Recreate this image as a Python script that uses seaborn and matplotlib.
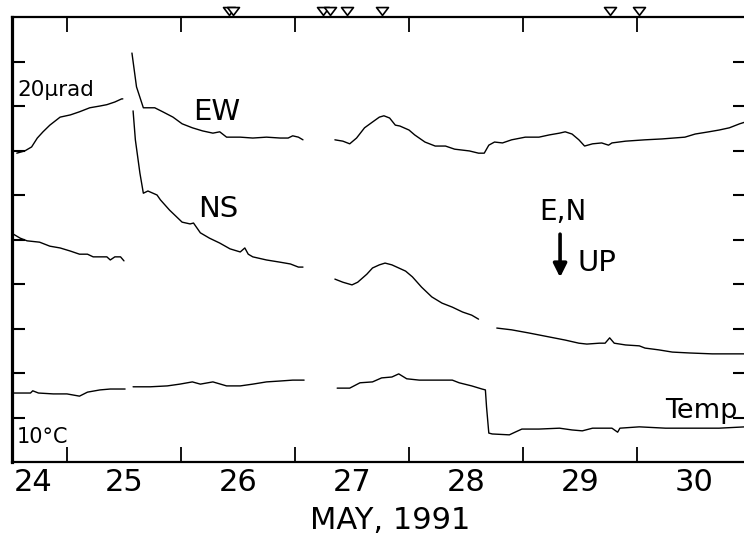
import numpy as np
import pandas as pd
import matplotlib
matplotlib.use("Agg")
import matplotlib.pyplot as plt
import seaborn as sns
from matplotlib.markers import MarkerStyle
from matplotlib.path import Path

# ---------------- data (x: day of May 1991, y: chart divisions) ----------------
EW_DAY_1 = [24.56, 24.63, 24.69, 24.74, 24.79, 24.85, 24.94, 25.03, 25.11, 25.20, 25.29, 25.35, 25.42, 25.48, 25.49]
EW_VAL_1 = [6.94, 6.99, 7.08, 7.28, 7.42, 7.57, 7.75, 7.80, 7.87, 7.96, 8.00, 8.03, 8.09, 8.16, 8.16]
EW_DAY_2 = [25.57, 25.61, 25.67, 25.77, 25.84, 25.93, 26.01, 26.10, 26.19, 26.28,
            26.34, 26.40, 26.52, 26.63, 26.75, 26.87, 26.94, 26.98, 27.03, 27.07]
EW_VAL_2 = [9.19, 8.43, 7.96, 7.96, 7.87, 7.75, 7.60, 7.51, 7.44, 7.39,
            7.42, 7.30, 7.30, 7.28, 7.30, 7.28, 7.28, 7.33, 7.30, 7.24]
EW_DAY_3 = [27.35, 27.42, 27.48, 27.54, 27.61, 27.68, 27.74, 27.78, 27.83, 27.88,
            27.92, 28.00, 28.05, 28.14, 28.23, 28.32, 28.40, 28.53, 28.61, 28.66,
            28.70, 28.75, 28.82, 28.90, 29.02, 29.14, 29.23, 29.32, 29.37, 29.43,
            29.49, 29.54, 29.61, 29.69, 29.75, 29.78, 29.90, 30.07, 30.22, 30.42,
            30.51, 30.63, 30.72, 30.81, 30.90, 30.95]
EW_VAL_3 = [7.24, 7.21, 7.15, 7.28, 7.51, 7.64, 7.75, 7.78, 7.73, 7.57,
            7.55, 7.46, 7.35, 7.19, 7.10, 7.10, 7.03, 6.99, 6.94, 6.94,
            7.12, 7.19, 7.17, 7.24, 7.30, 7.30, 7.35, 7.39, 7.42, 7.37,
            7.24, 7.10, 7.15, 7.17, 7.12, 7.17, 7.21, 7.24, 7.26, 7.30,
            7.37, 7.42, 7.46, 7.51, 7.60, 7.64]

NS_DAY_1 = [24.53, 24.59, 24.65, 24.76, 24.85, 24.94, 25.03, 25.11, 25.18, 25.23, 25.35, 25.38, 25.42, 25.47, 25.50]
NS_VAL_1 = [5.12, 5.03, 4.97, 4.94, 4.85, 4.81, 4.74, 4.67, 4.67, 4.61, 4.61, 4.54, 4.61, 4.61, 4.52]
NS_DAY_2 = [25.58, 25.60, 25.64, 25.67, 25.71, 25.79, 25.82, 25.90, 26.01, 26.08,
            26.11, 26.17, 26.25, 26.34, 26.43, 26.52, 26.56, 26.59, 26.63, 26.75,
            26.87, 26.96, 27.03, 27.07]
NS_VAL_2 = [7.89, 7.24, 6.49, 6.04, 6.09, 6.00, 5.89, 5.66, 5.39, 5.35,
            5.37, 5.15, 5.03, 4.92, 4.79, 4.72, 4.81, 4.67, 4.61, 4.54,
            4.49, 4.45, 4.38, 4.38]
NS_DAY_3 = [27.35, 27.42, 27.50, 27.55, 27.63, 27.68, 27.74, 27.79, 27.85, 27.91,
            27.97, 28.03, 28.11, 28.20, 28.29, 28.38, 28.47, 28.55, 28.61]
NS_VAL_3 = [4.11, 4.04, 3.98, 4.04, 4.22, 4.36, 4.43, 4.47, 4.43, 4.36,
            4.29, 4.16, 3.93, 3.71, 3.57, 3.48, 3.37, 3.30, 3.21]
NS_DAY_4 = [28.77, 28.90, 29.05, 29.19, 29.37, 29.49, 29.56, 29.67, 29.72, 29.76,
            29.80, 29.90, 30.02, 30.07, 30.19, 30.31, 30.46, 30.66, 30.95]
NS_VAL_4 = [3.01, 2.97, 2.90, 2.83, 2.74, 2.67, 2.65, 2.67, 2.67, 2.79,
            2.67, 2.63, 2.61, 2.56, 2.52, 2.47, 2.45, 2.43, 2.43]

T_DAY_1 = [24.53, 24.68, 24.70, 24.75, 24.88, 25.00, 25.11, 25.18, 25.29, 25.38, 25.51]
T_VAL_1 = [1.55, 1.55, 1.60, 1.55, 1.53, 1.53, 1.48, 1.57, 1.62, 1.64, 1.64]
T_DAY_2 = [25.58, 25.73, 25.88, 25.99, 26.10, 26.17, 26.28, 26.40, 26.52, 26.63, 26.75, 26.87, 26.98, 27.08]
T_VAL_2 = [1.69, 1.69, 1.71, 1.75, 1.80, 1.75, 1.80, 1.71, 1.71, 1.75, 1.80, 1.82, 1.84, 1.84]
T_DAY_3 = [27.37, 27.48, 27.57, 27.68, 27.76, 27.85, 27.91, 27.98, 28.09, 28.38,
           28.44, 28.55, 28.64, 28.67, 28.68, 28.70, 28.73, 28.88, 28.93, 28.99,
           29.14, 29.32, 29.43, 29.52, 29.61, 29.78, 29.83, 29.85, 30.02, 30.25,
           30.48, 30.72, 30.95]
T_VAL_3 = [1.66, 1.66, 1.78, 1.80, 1.89, 1.91, 1.98, 1.87, 1.84, 1.84,
           1.78, 1.71, 1.64, 1.62, 1.24, 0.65, 0.63, 0.61, 0.67, 0.74,
           0.74, 0.76, 0.72, 0.70, 0.76, 0.76, 0.67, 0.76, 0.79, 0.76,
           0.76, 0.76, 0.79]

EVENT_DAYS = [26.42, 26.46, 27.25, 27.31, 27.46, 27.76, 29.76, 30.02]

DAY_TICKS = [25, 26, 27, 28, 29, 30]
DAY_LABELS = ["24", "25", "26", "27", "28", "29", "30"]
DAY_LABEL_POS = [24.70, 25.5, 26.5, 27.5, 28.5, 29.5, 30.5]

# ---------------- build long table ----------------
segments = [
    ("EW", EW_DAY_1, EW_VAL_1), ("EW", EW_DAY_2, EW_VAL_2), ("EW", EW_DAY_3, EW_VAL_3),
    ("NS", NS_DAY_1, NS_VAL_1), ("NS", NS_DAY_2, NS_VAL_2), ("NS", NS_DAY_3, NS_VAL_3), ("NS", NS_DAY_4, NS_VAL_4),
    ("Temp", T_DAY_1, T_VAL_1), ("Temp", T_DAY_2, T_VAL_2), ("Temp", T_DAY_3, T_VAL_3),
]
frames = []
for i, (name, d, v) in enumerate(segments):
    frames.append(pd.DataFrame({"day": d, "val": v, "series": name, "seg": i}))
df = pd.concat(frames, ignore_index=True)

sns.set_style("ticks")
plt.rcParams["font.family"] = ["DejaVu Sans"]
plt.rcParams["text.color"] = "black"
plt.rcParams["axes.labelcolor"] = "black"
plt.rcParams["xtick.color"] = "black"
plt.rcParams["ytick.color"] = "black"

fig = plt.figure(figsize=(7.44, 5.41), dpi=100)
ax = fig.add_axes([12 / 744, 79 / 541, 733 / 744, 445 / 541])

sns.lineplot(data=df, x="day", y="val", units="seg", estimator=None, sort=False,
             color="black", linewidth=1.0, ax=ax, legend=False)

tri = MarkerStyle(Path([(-1, 0.66), (1, 0.66), (0, -0.66), (-1, 0.66)],
                       [Path.MOVETO, Path.LINETO, Path.LINETO, Path.CLOSEPOLY]))
ev = pd.DataFrame({"day": EVENT_DAYS, "y": [10.13] * len(EVENT_DAYS)})
sns.scatterplot(data=ev, x="day", y="y", marker=tri, s=74, facecolor="white",
                edgecolor="black", linewidth=1.2, clip_on=False, zorder=6, ax=ax)

ax.set_xlim(24.518, 30.947)
ax.set_ylim(0, 10)

ax.set_xticks(DAY_TICKS)
ax.set_xticklabels([])
ax.set_xticks(DAY_LABEL_POS, minor=True)
ax.set_xticklabels(DAY_LABELS, minor=True, fontsize=22)
ax.tick_params(axis="x", which="major", direction="in", length=11, width=1.3,
               top=True, bottom=True, labelbottom=False)
ax.tick_params(axis="x", which="minor", length=0, pad=4)
ax.set_yticks(range(1, 10))
ax.set_yticklabels([])
ax.tick_params(axis="y", direction="in", length=9, width=1.5, left=True, right=True)

ax.spines["left"].set_linewidth(2.3)
ax.spines["bottom"].set_linewidth(1.6)
ax.spines["top"].set_linewidth(1.6)
ax.spines["right"].set_visible(False)
for s in ax.spines.values():
    s.set_color("black")

ax.set_xlabel("MAY, 1991", fontsize=22)
ax.set_ylabel("")
ax.xaxis.set_label_coords(0.516, -0.098)

# annotations
ax.text(24.561, 8.22, "20\u00b5rad", fontsize=15.5, ha="left", va="baseline")
ax.text(26.316, 7.69, "EW", fontsize=21, ha="center", va="baseline")
ax.text(26.325, 5.51, "NS", fontsize=21, ha="center", va="baseline")
ax.text(29.35, 5.44, "E,N", fontsize=20, ha="center", va="baseline")
ax.text(29.474, 4.29, "UP", fontsize=21, ha="left", va="baseline")
ax.text(30.246, 0.99, "Temp", fontsize=19.5, ha="left", va="baseline")
ax.text(24.561, 0.43, "10\u00b0C", fontsize=15, ha="left", va="baseline")
ax.annotate("", xy=(29.325, 4.15), xytext=(29.325, 5.12),
            arrowprops=dict(arrowstyle="-|>", lw=2.6, color="black", mutation_scale=20,
                            shrinkA=0, shrinkB=0))

fig.savefig("out.png", dpi=100)
